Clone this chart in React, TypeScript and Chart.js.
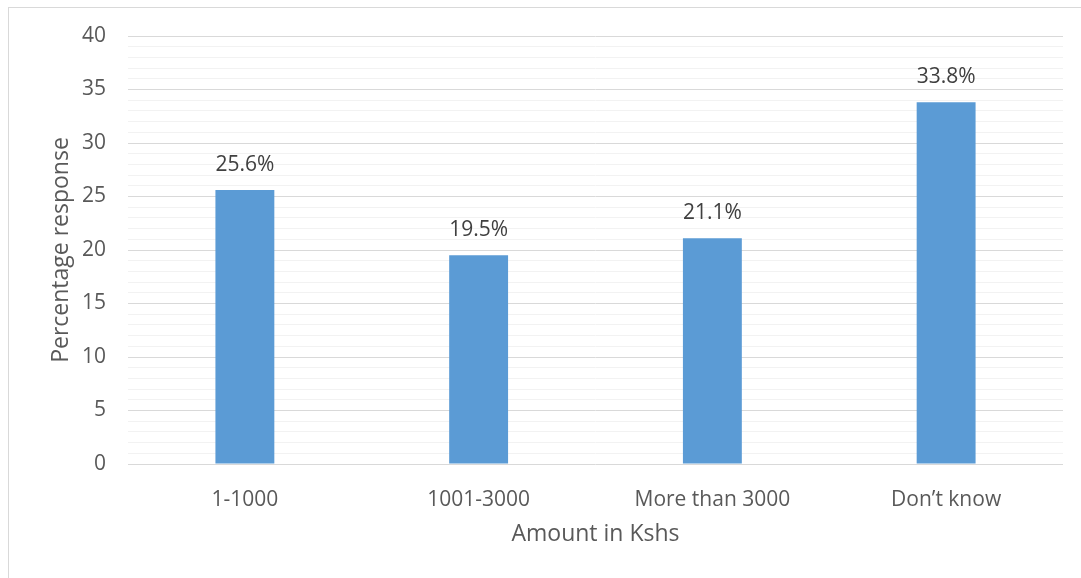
import React, { useEffect, useRef } from "react";
import { Chart, registerables } from "chart.js";

Chart.register(...registerables);

const categories = ["1-1000", "1001-3000", "More than 3000", "Don\u2019t know"];
const responses = [25.6, 19.5, 21.1, 33.8];
const yMin = 0;
const yMax = 40;
const yMajorStep = 5;
const yMinorStep = 1;

const FONT = "'Open Sans', 'Noto Sans', sans-serif";

// Writes each bar's percentage just above its top
const valueLabels = {
  id: "valueLabels",
  afterDatasetsDraw(chart: any) {
    const { ctx } = chart;
    const meta = chart.getDatasetMeta(0);
    ctx.save();
    ctx.font = `21px ${FONT}`;
    ctx.fillStyle = "#404040";
    ctx.textAlign = "center";
    ctx.textBaseline = "middle";
    meta.data.forEach((bar: any, i: number) => {
      const v = chart.data.datasets[0].data[i] as number;
      ctx.fillText(`${v.toFixed(1)}%`, bar.x, bar.y - 25);
    });
    ctx.restore();
  },
};

export default function App() {
  const canvasRef = useRef<HTMLCanvasElement | null>(null);

  useEffect(() => {
    if (!canvasRef.current) return;
    const chart = new Chart(canvasRef.current, {
      type: "bar",
      data: {
        labels: categories,
        datasets: [
          {
            data: responses,
            backgroundColor: "#5b9bd5",
            borderWidth: 0,
            barPercentage: 0.252,
            categoryPercentage: 1,
          },
        ],
      },
      options: {
        animation: false,
        responsive: true,
        maintainAspectRatio: false,
        layout: { padding: { left: 0, top: 36, right: 18, bottom: 0 } },
        plugins: {
          legend: { display: false },
          tooltip: { enabled: false },
        },
        scales: {
          x: {
            grid: { display: false },
            border: { display: false },
            ticks: {
              color: "#595959",
              font: { family: FONT, size: 21 },
              padding: 15,
              maxRotation: 0,
            },
            title: {
              display: true,
              text: "Amount in Kshs",
              color: "#595959",
              font: { family: FONT, size: 23 },
              padding: { top: 0, bottom: 30 },
            },
            afterFit(scale: any) {
              scale.height = 114;
            },
          },
          y: {
            min: yMin,
            max: yMax,
            border: { display: false },
            grid: {
              drawTicks: false,
              lineWidth: 1,
              color: (c: any) =>
                c.tick && c.tick.value % yMajorStep === 0 ? "#d9d9d9" : "#f2f2f2",
            },
            ticks: {
              stepSize: yMinorStep,
              autoSkip: false,
              padding: 22,
              color: "#595959",
              font: { family: FONT, size: 21 },
              callback: (v: any) => (Number(v) % yMajorStep === 0 ? String(v) : ""),
            },
            title: {
              display: true,
              text: "Percentage response",
              color: "#595959",
              font: { family: FONT, size: 23 },
              padding: { top: 48, bottom: 0 },
            },
            afterFit(scale: any) {
              scale.width = 128;
            },
          },
        },
      },
      plugins: [valueLabels],
    });
    return () => chart.destroy();
  }, []);

  return (
    <div
      style={{
        position: "fixed",
        left: 0,
        top: 0,
        width: 1081,
        height: 578,
        background: "#ffffff",
        overflow: "hidden",
      }}
    >
      <div
        style={{
          position: "absolute",
          left: 8,
          top: 7,
          width: 1200,
          height: 700,
          border: "1px solid #d9d9d9",
          boxSizing: "border-box",
        }}
      />
      <div style={{ position: "absolute", left: 0, top: 0, width: 1081, height: 578 }}>
        <canvas ref={canvasRef} />
      </div>
    </div>
  );
}
